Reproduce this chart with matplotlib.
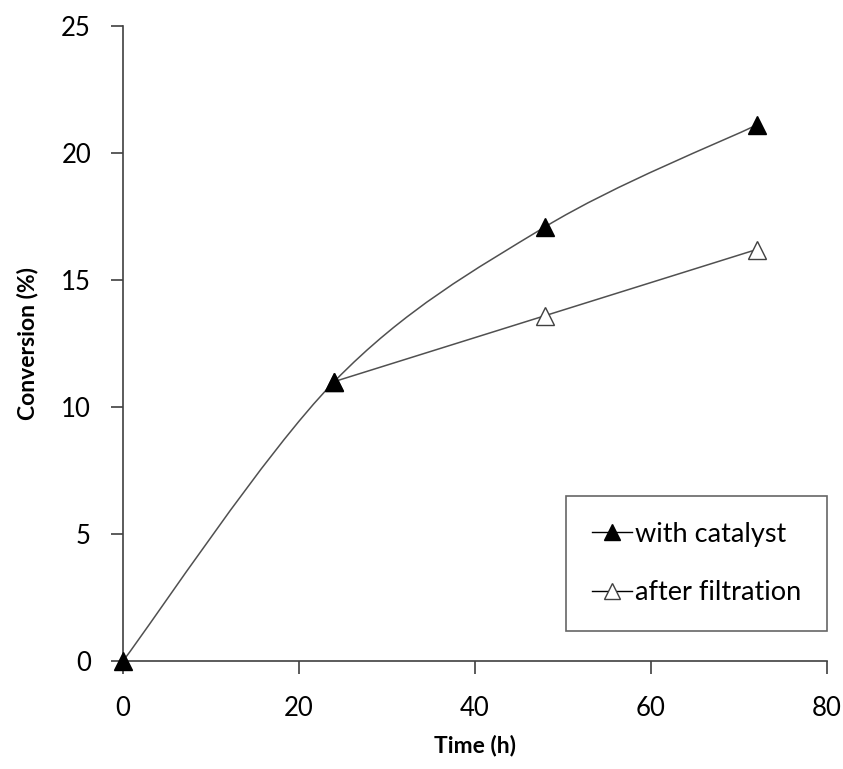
import matplotlib.pyplot as plt
import numpy as np
from matplotlib.path import Path
from matplotlib.patches import PathPatch
from matplotlib.lines import Line2D

# datos
tiempo_cat = [0, 24, 48, 72]
conv_cat = [0, 11.0, 17.1, 21.1]
tiempo_fil = [24, 48, 72]
conv_fil = [11.0, 13.6, 16.2]

plt.rcParams['font.family'] = ['Lato', 'DejaVu Sans']

fig = plt.figure(figsize=(8.43, 7.69), dpi=100)
ax = fig.add_axes([0.1459, 0.1404, 0.8351, 0.8258])


def curva_suave(x, y):
    # linea suavizada tipo Excel (Catmull-Rom en Bezier)
    x = np.asarray(x, float)
    y = np.asarray(y, float)
    pts = np.column_stack([x, y])
    verts = [pts[0]]
    codes = [Path.MOVETO]
    n = len(pts)
    for i in range(n - 1):
        p0 = pts[i - 1] if i > 0 else pts[i]
        p1 = pts[i]
        p2 = pts[i + 1]
        p3 = pts[i + 2] if i + 2 < n else pts[i + 1]
        c1 = p1 + (p2 - p0) / 6.0
        c2 = p2 - (p3 - p1) / 6.0
        verts += [c1, c2, p2]
        codes += [Path.CURVE4] * 3
    return Path(verts, codes)


color_linea = '#505050'
ax.add_patch(PathPatch(curva_suave(tiempo_cat, conv_cat), fill=False,
                       edgecolor=color_linea, lw=1.1, zorder=2))
ax.add_patch(PathPatch(curva_suave(tiempo_fil, conv_fil), fill=False,
                       edgecolor=color_linea, lw=1.1, zorder=2))

ax.plot(tiempo_fil, conv_fil, linestyle='none', marker='^', markersize=13,
        markerfacecolor='white', markeredgecolor='#404040', markeredgewidth=1,
        zorder=3, clip_on=False)
ax.plot(tiempo_cat, conv_cat, linestyle='none', marker='^', markersize=13,
        markerfacecolor='black', markeredgecolor='black', zorder=4, clip_on=False)

ax.set_xlim(0, 80)
ax.set_ylim(0, 25)
ax.set_xticks([0, 20, 40, 60, 80])
ax.set_yticks([0, 5, 10, 15, 20, 25])

for lado in ['top', 'right']:
    ax.spines[lado].set_visible(False)
for lado in ['left', 'bottom']:
    ax.spines[lado].set_color('#404040')
    ax.spines[lado].set_linewidth(1.2)

ax.tick_params(direction='out', length=9, width=1.2, color='#404040',
               labelsize=18.5, pad=14)
ax.tick_params(axis='x', pad=16)

ax.set_xlabel('Time (h)', fontsize=16.5, fontweight='bold', labelpad=10)
ax.set_ylabel('Conversion (%)', fontsize=16.5, fontweight='bold', labelpad=16)

handles = [
    Line2D([], [], color='black', lw=1, marker='^', markersize=11,
           markerfacecolor='black', markeredgecolor='black'),
    Line2D([], [], color='black', lw=1, marker='^', markersize=11,
           markerfacecolor='white', markeredgecolor='#404040'),
]
leg = ax.legend(handles, ['with catalyst', 'after filtration'],
                loc='lower right', bbox_to_anchor=(1.0, 0.047),
                borderaxespad=0, fontsize=19.5, frameon=True, fancybox=False,
                handlelength=1.5, handletextpad=0.1, labelspacing=1.25,
                borderpad=0.95)
leg.get_frame().set_edgecolor('#404040')
leg.get_frame().set_linewidth(1.2)

fig.savefig('out.png', dpi=100)
